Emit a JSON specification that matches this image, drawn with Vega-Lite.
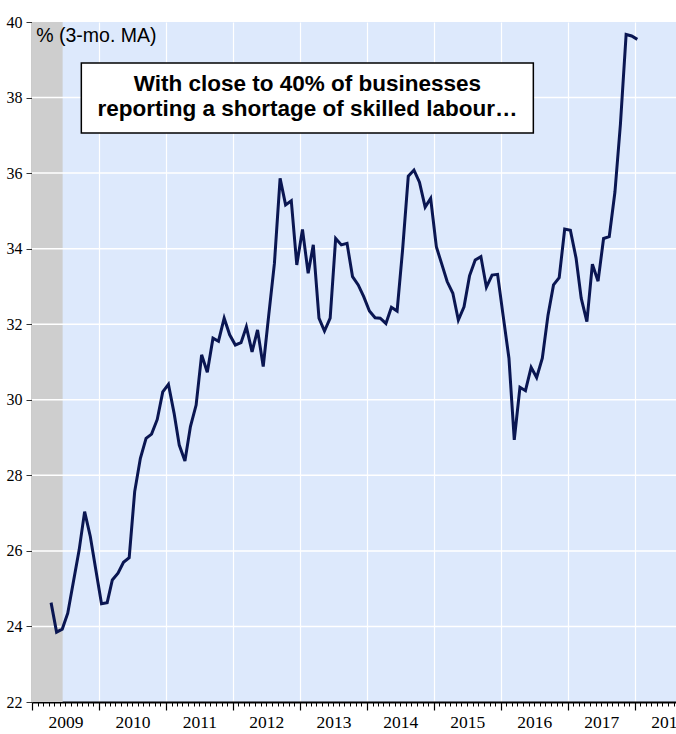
{
  "$schema": "https://vega.github.io/schema/vega-lite/v6.json",
  "width": 644,
  "height": 680,
  "autosize": "none",
  "padding": {"left": 32, "top": 22, "right": 0, "bottom": 32},
  "background": "white",
  "config": {
    "view": {"fill": "#dde9fc", "stroke": null},
    "font": "Liberation Sans",
    "axisY": {
      "title": null,
      "grid": false, "tickSize": 6, "tickColor": "#333333", "tickWidth": 1,
      "labelFont": "Liberation Sans Narrow", "labelFontSize": 16, "labelColor": "#000000",
      "labelPadding": 4, "labelOverlap": false, "domainColor": "#333333", "domainWidth": 1.5, "zindex": 1
    }
  },
  "resolve": {"axis": {"x": "independent"}},
  "layer": [
    {
      "data": {"values": [{"start": "2009-01-01", "end": "2009-06-17"}]},
      "mark": {"type": "rect", "color": "#cecece"},
      "encoding": {
        "x": {
          "field": "start", "type": "temporal",
          "scale": {"type": "utc", "domain": [{"year": 2009, "month": 1, "date": 1, "utc": true}, {"year": 2018, "month": 8, "date": 14, "utc": true}], "nice": false},
          "axis": {
            "orient": "bottom", "title": null, "labels": false, "grid": false, "domain": false,
            "tickCount": {"interval": "month", "step": 1},
            "tickSize": 4, "tickColor": "#000000", "tickWidth": 1
          }
        },
        "x2": {"field": "end"}
      }
    },
    {
      "data": {"values": [{"level": 24}, {"level": 26}, {"level": 28}, {"level": 30}, {"level": 32}, {"level": 34}, {"level": 36}, {"level": 38}]},
      "mark": {"type": "rule", "color": "#ffffff", "strokeWidth": 1.5},
      "encoding": {
        "y": {"field": "level", "type": "quantitative", "scale": {"domain": [22, 40], "nice": false, "zero": false}, "title": null}
      }
    },
    {
      "data": {
        "values": [
          {"date": "2009-04-15", "value": 24.63},
          {"date": "2009-05-15", "value": 23.85},
          {"date": "2009-06-15", "value": 23.93},
          {"date": "2009-07-15", "value": 24.35},
          {"date": "2009-08-15", "value": 25.19},
          {"date": "2009-09-15", "value": 26.02},
          {"date": "2009-10-15", "value": 27.04},
          {"date": "2009-11-15", "value": 26.38},
          {"date": "2009-12-15", "value": 25.5},
          {"date": "2010-01-15", "value": 24.6},
          {"date": "2010-02-15", "value": 24.63},
          {"date": "2010-03-15", "value": 25.23},
          {"date": "2010-04-15", "value": 25.41},
          {"date": "2010-05-15", "value": 25.7},
          {"date": "2010-06-15", "value": 25.82},
          {"date": "2010-07-15", "value": 27.57},
          {"date": "2010-08-15", "value": 28.45},
          {"date": "2010-09-15", "value": 28.98},
          {"date": "2010-10-15", "value": 29.09},
          {"date": "2010-11-15", "value": 29.48},
          {"date": "2010-12-15", "value": 30.21},
          {"date": "2011-01-15", "value": 30.41},
          {"date": "2011-02-15", "value": 29.64},
          {"date": "2011-03-15", "value": 28.8},
          {"date": "2011-04-15", "value": 28.38},
          {"date": "2011-05-15", "value": 29.29},
          {"date": "2011-06-15", "value": 29.86},
          {"date": "2011-07-15", "value": 31.19},
          {"date": "2011-08-15", "value": 30.73},
          {"date": "2011-09-15", "value": 31.63},
          {"date": "2011-10-15", "value": 31.55},
          {"date": "2011-11-15", "value": 32.16},
          {"date": "2011-12-15", "value": 31.72},
          {"date": "2012-01-15", "value": 31.45},
          {"date": "2012-02-15", "value": 31.51},
          {"date": "2012-03-15", "value": 31.93},
          {"date": "2012-04-15", "value": 31.27},
          {"date": "2012-05-15", "value": 31.85},
          {"date": "2012-06-15", "value": 30.88},
          {"date": "2012-07-15", "value": 32.24},
          {"date": "2012-08-15", "value": 33.61},
          {"date": "2012-09-15", "value": 35.86},
          {"date": "2012-10-15", "value": 35.16},
          {"date": "2012-11-15", "value": 35.27},
          {"date": "2012-12-15", "value": 33.57},
          {"date": "2013-01-15", "value": 34.51},
          {"date": "2013-02-15", "value": 33.35},
          {"date": "2013-03-15", "value": 34.1},
          {"date": "2013-04-15", "value": 32.16},
          {"date": "2013-05-15", "value": 31.82},
          {"date": "2013-06-15", "value": 32.16},
          {"date": "2013-07-15", "value": 34.27},
          {"date": "2013-08-15", "value": 34.1},
          {"date": "2013-09-15", "value": 34.14},
          {"date": "2013-10-15", "value": 33.26},
          {"date": "2013-11-15", "value": 33.04},
          {"date": "2013-12-15", "value": 32.73},
          {"date": "2014-01-15", "value": 32.35},
          {"date": "2014-02-15", "value": 32.17},
          {"date": "2014-03-15", "value": 32.16},
          {"date": "2014-04-15", "value": 32.02},
          {"date": "2014-05-15", "value": 32.45},
          {"date": "2014-06-15", "value": 32.35},
          {"date": "2014-07-15", "value": 33.97},
          {"date": "2014-08-15", "value": 35.92},
          {"date": "2014-09-15", "value": 36.08},
          {"date": "2014-10-15", "value": 35.76},
          {"date": "2014-11-15", "value": 35.1},
          {"date": "2014-12-15", "value": 35.33},
          {"date": "2015-01-15", "value": 34.05},
          {"date": "2015-02-15", "value": 33.57},
          {"date": "2015-03-15", "value": 33.13},
          {"date": "2015-04-15", "value": 32.82},
          {"date": "2015-05-15", "value": 32.11},
          {"date": "2015-06-15", "value": 32.46},
          {"date": "2015-07-15", "value": 33.28},
          {"date": "2015-08-15", "value": 33.7},
          {"date": "2015-09-15", "value": 33.79},
          {"date": "2015-10-15", "value": 32.98},
          {"date": "2015-11-15", "value": 33.3},
          {"date": "2015-12-15", "value": 33.32},
          {"date": "2016-01-15", "value": 32.2},
          {"date": "2016-02-15", "value": 31.1},
          {"date": "2016-03-15", "value": 28.94},
          {"date": "2016-04-15", "value": 30.33},
          {"date": "2016-05-15", "value": 30.24},
          {"date": "2016-06-15", "value": 30.86},
          {"date": "2016-07-15", "value": 30.59},
          {"date": "2016-08-15", "value": 31.1},
          {"date": "2016-09-15", "value": 32.24},
          {"date": "2016-10-15", "value": 33.04},
          {"date": "2016-11-15", "value": 33.23},
          {"date": "2016-12-15", "value": 34.52},
          {"date": "2017-01-15", "value": 34.49},
          {"date": "2017-02-15", "value": 33.75},
          {"date": "2017-03-15", "value": 32.69},
          {"date": "2017-04-15", "value": 32.07},
          {"date": "2017-05-15", "value": 33.59},
          {"date": "2017-06-15", "value": 33.14},
          {"date": "2017-07-15", "value": 34.27},
          {"date": "2017-08-15", "value": 34.32},
          {"date": "2017-09-15", "value": 35.5},
          {"date": "2017-10-15", "value": 37.3},
          {"date": "2017-11-15", "value": 39.67},
          {"date": "2017-12-15", "value": 39.63},
          {"date": "2018-01-15", "value": 39.54}
        ]
      },
      "mark": {"type": "line", "color": "#0a1652", "strokeWidth": 3, "strokeJoin": "miter"},
      "encoding": {
        "x": {
          "field": "date", "type": "temporal",
          "scale": {"type": "utc", "domain": [{"year": 2009, "month": 1, "date": 1, "utc": true}, {"year": 2018, "month": 8, "date": 14, "utc": true}], "nice": false},
          "axis": {
            "orient": "bottom", "title": null, "format": "%Y",
            "tickCount": {"interval": "year", "step": 1},
            "labelOffset": 33.5, "labelFlush": false, "labelOverlap": false, "labelBound": false,
            "labelFont": "Liberation Sans Narrow", "labelFontSize": 17.5, "labelColor": "#000000",
            "labelPadding": 3,
            "tickSize": 8, "tickColor": "#000000", "tickWidth": 1.2,
            "domainColor": "#000000", "domainWidth": 2,
            "grid": true, "gridColor": "#ffffff", "gridWidth": 1.2
          }
        },
        "y": {
          "field": "value", "type": "quantitative",
          "scale": {"domain": [22, 40], "nice": false, "zero": false},
          "title": null,
          "axis": {"values": [22, 24, 26, 28, 30, 32, 34, 36, 38, 40]}
        }
      }
    },
    {
      "data": {"values": [{}]},
      "mark": {"type": "rect", "fill": "#ffffff", "stroke": "#000000", "strokeWidth": 1.5},
      "encoding": {
        "x": {"datum": {"year": 2009, "month": 9, "date": 27, "utc": true}, "type": "temporal", "axis": null},
        "x2": {"datum": {"year": 2016, "month": 6, "date": 27, "utc": true}},
        "y": {"datum": 38.915, "type": "quantitative", "title": null},
        "y2": {"datum": 37.062}
      }
    },
    {
      "data": {"values": [{}]},
      "mark": {
        "type": "text", "text": ["With close to 40% of businesses", "reporting a shortage of skilled labour…"],
        "font": "Liberation Sans", "fontWeight": "bold", "fontSize": 22.5, "lineHeight": 25.3,
        "align": "center", "baseline": "alphabetic", "color": "#000000"
      },
      "encoding": {
        "x": {"datum": {"year": 2013, "month": 2, "date": 11, "utc": true}, "type": "temporal", "axis": null},
        "y": {"datum": 38.18, "type": "quantitative", "title": null}
      }
    },
    {
      "data": {"values": [{}]},
      "mark": {
        "type": "text", "text": "% (3-mo. MA)",
        "font": "Liberation Sans", "fontSize": 19.5,
        "align": "left", "baseline": "alphabetic", "color": "#000000"
      },
      "encoding": {
        "x": {"datum": {"year": 2009, "month": 1, "date": 24, "utc": true}, "type": "temporal", "axis": null},
        "y": {"datum": 39.46, "type": "quantitative", "title": null}
      }
    }
  ]
}
